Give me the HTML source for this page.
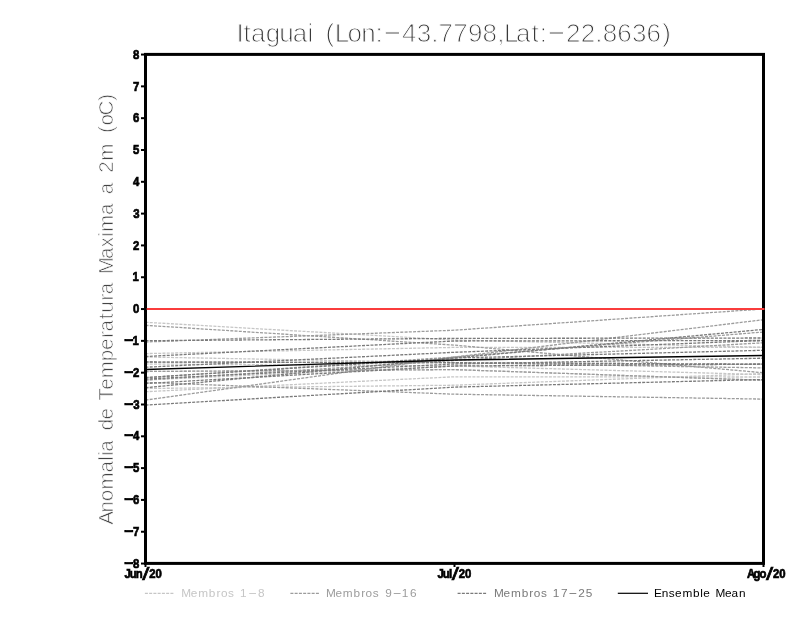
<!DOCTYPE html>
<html lang="pt-BR">
<head>
<meta charset="utf-8">
<title>Itaguai (Lon:-43.7798,Lat:-22.8636)</title>
<style>
html,body{margin:0;padding:0;background:#fff;}
body{width:800px;height:618px;overflow:hidden;}
svg{display:block;}
text{font-family:"Liberation Sans",sans-serif;white-space:pre;}
.thin{stroke:#fff;stroke-width:1px;paint-order:fill stroke;}
.tick{font-weight:bold;font-size:13.2px;fill:#000;stroke:#000;stroke-width:0.7px;}
.leg{font-size:11.8px;}
</style>
</head>
<body>
<svg width="800" height="618" viewBox="0 0 800 618">
<rect x="0" y="0" width="800" height="618" fill="#fff"/>
<text class="thin" xml:space="preserve" font-size="26" fill="#3a3a3a"><tspan x="236.39 243.61 250.90 265.66 279.30 292.65 307.44 315.50 325.55 334.69 347.41 361.30 375.56" y="41.8">Itaguai (Lon:</tspan><tspan x="381.69" y="39.59" textLength="21.35" lengthAdjust="spacingAndGlyphs">-</tspan><tspan x="402.06 416.70 431.23 438.59 453.24 467.91 482.55 497.16 503.89 516.06 531.48 539.64" y="41.8">43.7798,Lat:</tspan><tspan x="545.77" y="39.59" textLength="21.35" lengthAdjust="spacingAndGlyphs">-</tspan><tspan x="566.06 580.71 595.31 602.68 617.24 632.06 646.54 662.20" y="41.8">22.8636)</tspan></text>
<g transform="translate(112.9,309.1) rotate(-90)"><text class="thin" style="stroke-width:0.7px" xml:space="preserve" font-size="20.6" fill="#444"><tspan x="-215.61 -203.48 -192.17 -180.46 -163.47 -151.57 -146.80 -142.65 -128.94 -121.17 -110.38 -97.42 -91.33 -80.64 -69.25 -52.05 -40.80 -28.92 -22.52 -10.08 -3.63 8.54 14.94 28.65 34.83 50.03 61.75 72.05 77.05 94.04 107.75 114.85 128.56 136.40 148.41 167.81 176.00 183.68 193.73 208.44" y="0">Anomalia de Temperatura Maxima a 2m (oC)</tspan></text></g>
<g fill="none" stroke="#c6c6c6" stroke-width="1.3" stroke-dasharray="3 1.25">
<polyline points="145.5,322.3 454.5,340.0 763.5,347.3"/>
<polyline points="145.5,353.6 454.5,347.4 763.5,347.3"/>
<polyline points="145.5,357.0 454.5,362.7 763.5,364.2"/>
<polyline points="145.5,364.0 454.5,366.0 763.5,374.6"/>
<polyline points="145.5,371.5 454.5,369.6 763.5,380.3"/>
<polyline points="145.5,380.0 454.5,366.0 763.5,364.2"/>
<polyline points="145.5,388.5 454.5,385.2 763.5,373.6"/>
<polyline points="145.5,391.7 454.5,376.8 763.5,377.0"/>
</g>
<g fill="none" stroke="#9c9c9c" stroke-width="1.3" stroke-dasharray="3 1.25">
<polyline points="145.5,325.3 454.5,345.1 763.5,372.8"/>
<polyline points="145.5,342.0 454.5,330.2 763.5,309.0"/>
<polyline points="145.5,362.0 454.5,362.7 763.5,367.9"/>
<polyline points="145.5,380.0 454.5,360.5 763.5,342.8"/>
<polyline points="145.5,400.1 454.5,357.0 763.5,319.7"/>
<polyline points="145.5,382.4 454.5,394.2 763.5,399.1"/>
<polyline points="145.5,377.6 454.5,357.0 763.5,332.0"/>
<polyline points="145.5,371.5 454.5,369.6 763.5,380.3"/>
</g>
<g fill="none" stroke="#7a7a7a" stroke-width="1.3" stroke-dasharray="3 1.25">
<polyline points="145.5,340.7 454.5,338.4 763.5,338.0"/>
<polyline points="145.5,356.5 454.5,341.0 763.5,340.5"/>
<polyline points="145.5,367.2 454.5,352.3 763.5,340.5"/>
<polyline points="145.5,387.7 454.5,358.0 763.5,329.4"/>
<polyline points="145.5,405.1 454.5,387.1 763.5,379.5"/>
<polyline points="145.5,383.5 454.5,366.0 763.5,364.2"/>
<polyline points="145.5,377.6 454.5,358.0 763.5,350.3"/>
<polyline points="145.5,362.0 454.5,362.7 763.5,364.2"/>
<polyline points="145.5,379.0 454.5,364.0 763.5,358.2"/>
</g>
<polyline fill="none" stroke="#000" stroke-width="1.4" points="145.5,369.5 454.5,360.0 763.5,355.5"/>
<rect x="145.5" y="54.4" width="618.0" height="509.0" fill="none" stroke="#000" stroke-width="3"/>
<line x1="146.7" y1="308.9" x2="764.5" y2="308.9" stroke="#fa3c3c" stroke-width="2"/>
<g stroke="#000" stroke-width="2">
<line x1="141" y1="563.55" x2="145" y2="563.55"/>
<line x1="141" y1="531.74" x2="145" y2="531.74"/>
<line x1="141" y1="499.92" x2="145" y2="499.92"/>
<line x1="141" y1="468.11" x2="145" y2="468.11"/>
<line x1="141" y1="436.30" x2="145" y2="436.30"/>
<line x1="141" y1="404.49" x2="145" y2="404.49"/>
<line x1="141" y1="372.67" x2="145" y2="372.67"/>
<line x1="141" y1="340.86" x2="145" y2="340.86"/>
<line x1="141" y1="309.05" x2="145" y2="309.05"/>
<line x1="141" y1="277.24" x2="145" y2="277.24"/>
<line x1="141" y1="245.42" x2="145" y2="245.42"/>
<line x1="141" y1="213.61" x2="145" y2="213.61"/>
<line x1="141" y1="181.80" x2="145" y2="181.80"/>
<line x1="141" y1="149.99" x2="145" y2="149.99"/>
<line x1="141" y1="118.17" x2="145" y2="118.17"/>
<line x1="141" y1="86.36" x2="145" y2="86.36"/>
<line x1="141" y1="54.55" x2="145" y2="54.55"/>
<line x1="145.5" y1="563" x2="145.5" y2="567"/>
<line x1="454.5" y1="563" x2="454.5" y2="567"/>
<line x1="763.5" y1="563" x2="763.5" y2="567"/>
</g>
<g class="tick" transform="scale(0.86,1)">
<text><tspan x="154.72" y="58.75">8</tspan></text>
<text><tspan x="154.74" y="90.56">7</tspan></text>
<text><tspan x="154.73" y="122.37">6</tspan></text>
<text><tspan x="154.71" y="154.19">5</tspan></text>
<text><tspan x="154.66" y="186.0">4</tspan></text>
<text><tspan x="154.82" y="217.81">3</tspan></text>
<text><tspan x="154.76" y="249.62">2</tspan></text>
<text><tspan x="153.94" y="281.44">1</tspan></text>
<text><tspan x="154.74" y="313.25">0</tspan></text>
<text><tspan x="144.34" y="343.94" textLength="11.16" lengthAdjust="spacingAndGlyphs">-</tspan><tspan x="153.94" y="345.06">1</tspan></text>
<text><tspan x="144.34" y="375.76" textLength="11.16" lengthAdjust="spacingAndGlyphs">-</tspan><tspan x="154.76" y="376.88">2</tspan></text>
<text><tspan x="144.34" y="407.57" textLength="11.16" lengthAdjust="spacingAndGlyphs">-</tspan><tspan x="154.82" y="408.69">3</tspan></text>
<text><tspan x="144.34" y="439.38" textLength="11.16" lengthAdjust="spacingAndGlyphs">-</tspan><tspan x="154.66" y="440.5">4</tspan></text>
<text><tspan x="144.34" y="471.19" textLength="11.16" lengthAdjust="spacingAndGlyphs">-</tspan><tspan x="154.71" y="472.31">5</tspan></text>
<text><tspan x="144.34" y="503.00" textLength="11.16" lengthAdjust="spacingAndGlyphs">-</tspan><tspan x="154.73" y="504.12">6</tspan></text>
<text><tspan x="144.34" y="534.82" textLength="11.16" lengthAdjust="spacingAndGlyphs">-</tspan><tspan x="154.74" y="535.94">7</tspan></text>
<text><tspan x="144.34" y="566.63" textLength="11.16" lengthAdjust="spacingAndGlyphs">-</tspan><tspan x="154.72" y="567.75">8</tspan></text>
<text><tspan x="144.73 150.88 157.84" y="577.9">Jun</tspan><tspan x="165.28" y="580.20" font-size="18.7" font-weight="normal" stroke-width="0.6" textLength="8.37" lengthAdjust="spacingAndGlyphs">/</tspan><tspan x="173.59 180.95" y="577.9">20</tspan></text>
<text><tspan x="508.68 514.83 521.99" y="577.9">Jul</tspan><tspan x="525.17" y="580.20" font-size="18.7" font-weight="normal" stroke-width="0.6" textLength="8.37" lengthAdjust="spacingAndGlyphs">/</tspan><tspan x="533.48 540.84" y="577.9">20</tspan></text>
<text><tspan x="868.57 876.30 883.14" y="577.9">Ago</tspan><tspan x="890.56" y="580.20" font-size="18.7" font-weight="normal" stroke-width="0.6" textLength="8.37" lengthAdjust="spacingAndGlyphs">/</tspan><tspan x="898.86 906.22" y="577.9">20</tspan></text>
</g>
<line x1="144.9" y1="593.3" x2="174.5" y2="593.3" stroke="#c6c6c6" stroke-width="1.2" stroke-dasharray="3 1.25"/>
<text class="leg" xml:space="preserve" fill="#c6c6c6"><tspan x="181.29 190.81 198.16 208.85 216.57 220.98 228.11 235.56 239.94" y="596.9">Membros 1</tspan><tspan x="247.94" y="595.90" textLength="9.28" lengthAdjust="spacingAndGlyphs">-</tspan><tspan x="257.92" y="596.9">8</tspan></text>
<line x1="290.4" y1="593.3" x2="320" y2="593.3" stroke="#9c9c9c" stroke-width="1.2" stroke-dasharray="3 1.25"/>
<text class="leg" xml:space="preserve" fill="#9c9c9c"><tspan x="325.89 335.41 342.76 353.45 361.17 365.58 372.71 380.16 385.27" y="596.9">Membros 9</tspan><tspan x="392.54" y="595.90" textLength="9.28" lengthAdjust="spacingAndGlyphs">-</tspan><tspan x="401.79 409.98" y="596.9">16</tspan></text>
<line x1="457.6" y1="593.3" x2="487.2" y2="593.3" stroke="#7a7a7a" stroke-width="1.2" stroke-dasharray="3 1.25"/>
<text class="leg" xml:space="preserve" fill="#7a7a7a"><tspan x="494.09 503.61 510.96 521.65 529.37 533.78 540.91 548.36 552.74 560.96" y="596.9">Membros 17</tspan><tspan x="568.24" y="595.90" textLength="9.28" lengthAdjust="spacingAndGlyphs">-</tspan><tspan x="578.22 585.73" y="596.9">25</tspan></text>
<line x1="617.8" y1="593.3" x2="648" y2="593.3" stroke="#000" stroke-width="1.2"/>
<text class="leg" xml:space="preserve" fill="#000"><tspan x="654.07 661.70 668.84 675.03 682.38 693.07 700.24 703.16 711.16 715.39 724.91 731.58 738.95" y="596.9">Ensemble Mean</tspan></text>
</svg>
</body>
</html>
